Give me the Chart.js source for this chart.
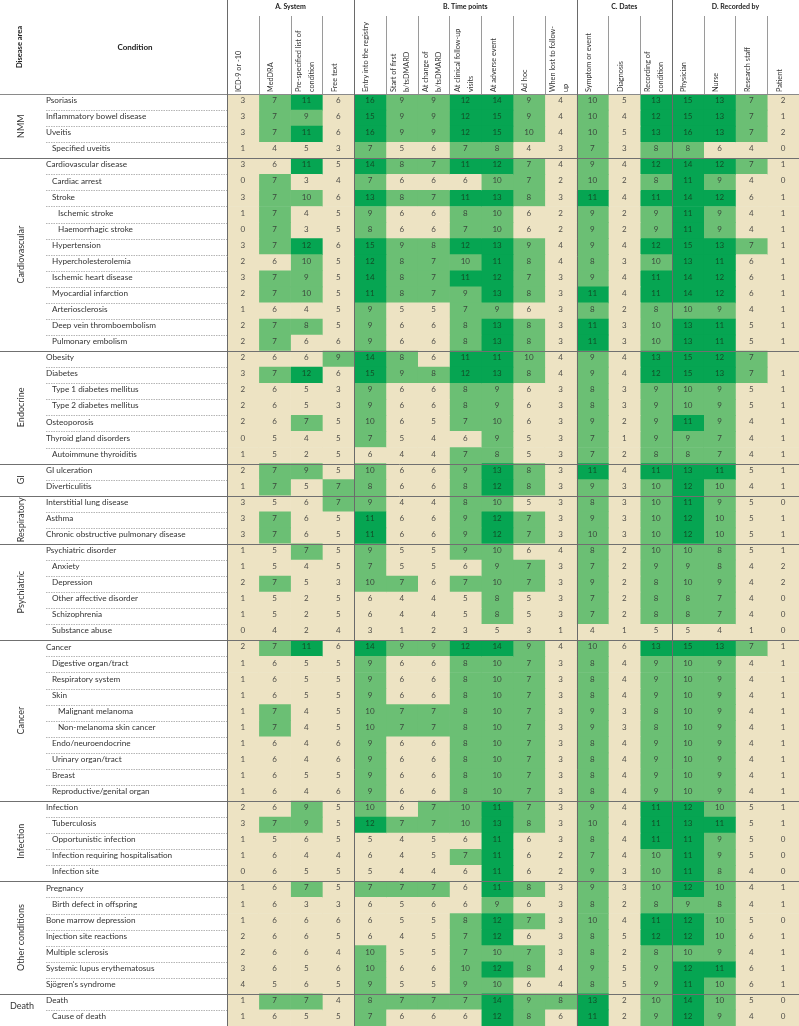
<!DOCTYPE html>
<html>
<head>
<meta charset="utf-8">
<script src="https://cdn.jsdelivr.net/npm/chart.js@4.4.1/dist/chart.umd.min.js"></script>
<style>
  html, body { margin: 0; padding: 0; background: #fff; }
  #wrap { width: 799px; height: 1026px; position: relative; }
</style>
</head>
<body>
<div id="wrap"><canvas id="grid"></canvas></div>
<script>
// Heat-table of how each condition is captured across registries:
// one floating horizontal bar per cell on a linear x scale (column index)
// and a category y scale (condition). Text and rules are drawn by a plugin.

var diseaseAreas = ["NMM", "Cardiovascular", "Endocrine", "GI", "Respiratory",
  "Psychiatric", "Cancer", "Infection", "Other conditions", "Death"];
var areaSizes = [4, 12, 7, 2, 3, 6, 10, 5, 7, 2];

var conditions = [
  "Psoriasis", "Inflammatory bowel disease", "Uveitis", "Specified uveitis",
  "Cardiovascular disease", "Cardiac arrest", "Stroke", "Ischemic stroke", "Haemorrhagic stroke",
  "Hypertension", "Hypercholesterolemia", "Ischemic heart disease", "Myocardial infarction",
  "Arteriosclerosis", "Deep vein thromboembolism", "Pulmonary embolism",
  "Obesity", "Diabetes", "Type 1 diabetes mellitus", "Type 2 diabetes mellitus",
  "Osteoporosis", "Thyroid gland disorders", "Autoimmune thyroiditis",
  "GI ulceration", "Diverticulitis",
  "Interstitial lung disease", "Asthma", "Chronic obstructive pulmonary disease",
  "Psychiatric disorder", "Anxiety", "Depression", "Other affective disorder", "Schizophrenia", "Substance abuse",
  "Cancer", "Digestive organ/tract", "Respiratory system", "Skin", "Malignant melanoma",
  "Non-melanoma skin cancer", "Endo/neuroendocrine", "Urinary organ/tract", "Breast", "Reproductive/genital organ",
  "Infection", "Tuberculosis", "Opportunistic infection", "Infection requiring hospitalisation", "Infection site",
  "Pregnancy", "Birth defect in offspring", "Bone marrow depression", "Injection site reactions",
  "Multiple sclerosis", "Systemic lupus erythematosus", "Sjögren's syndrome",
  "Death", "Cause of death"
];
// hierarchy depth of each condition (0 = top level, 1 = sub, 2 = sub-sub)
var rowLevel = [
  0, 0, 0, 1,
  0, 1, 1, 2, 2, 1, 1, 1, 1, 1, 1, 1,
  0, 0, 1, 1, 0, 0, 1,
  0, 0,
  0, 0, 0,
  0, 1, 1, 1, 1, 1,
  0, 1, 1, 1, 2, 2, 1, 1, 1, 1,
  0, 1, 1, 1, 1,
  0, 1, 0, 0, 0, 0, 0,
  0, 1
];

var columnGroups = ["A. System", "B. Time points", "C. Dates", "D. Recorded by"];
var systemCols = [["ICD-9 or -10"], ["MedDRA"], ["Pre-specified list of", "condition"], ["Free text"]];
var timePointCols = [["Entry into the registry"], ["Start of first", "b/tsDMARD"], ["At change of", "b/tsDMARD"],
  ["At clinical follow-up", "visits"], ["At adverse event"], ["Ad hoc"], ["When lost to follow-", "up"]];
var dateCols = [["Symptom or event"], ["Diagnosis"], ["Recording of", "condition"]];
var recorderCols = [["Physician"], ["Nurse"], ["Research staff"], ["Patient"]];

// ICD, MedDRA, pre-specified list, free text
var systemCounts = [
  [3,7,11,6],[3,7,9,6],[3,7,11,6],[1,4,5,3],
  [3,6,11,5],[0,7,3,4],[3,7,10,6],[1,7,4,5],[0,7,3,5],[3,7,12,6],[2,6,10,5],[3,7,9,5],[2,7,10,5],[1,6,4,5],[2,7,8,5],[2,7,6,6],
  [2,6,6,9],[3,7,12,6],[2,6,5,3],[2,6,5,3],[2,6,7,5],[0,5,4,5],[1,5,2,5],
  [2,7,9,5],[1,7,5,7],
  [3,5,6,7],[3,7,6,5],[3,7,6,5],
  [1,5,7,5],[1,5,4,5],[2,7,5,3],[1,5,2,5],[1,5,2,5],[0,4,2,4],
  [2,7,11,6],[1,6,5,5],[1,6,5,5],[1,6,5,5],[1,7,4,5],[1,7,4,5],[1,6,4,6],[1,6,4,6],[1,6,5,5],[1,6,4,6],
  [2,6,9,5],[3,7,9,5],[1,5,6,5],[1,6,4,4],[0,6,5,5],
  [1,6,7,5],[1,6,3,3],[1,6,6,6],[2,6,6,5],[2,6,6,4],[3,6,5,6],[4,5,6,5],
  [1,7,7,4],[1,6,5,5]
];
// entry, start of first, change, clinical visit, adverse event, ad hoc, lost to follow-up
var timePointCounts = [
  [16,9,9,12,14,9,4],[15,9,9,12,15,9,4],[16,9,9,12,15,10,4],[7,5,6,7,8,4,3],
  [14,8,7,11,12,7,4],[7,6,6,6,10,7,2],[13,8,7,11,13,8,3],[9,6,6,8,10,6,2],[8,6,6,7,10,6,2],
  [15,9,8,12,13,9,4],[12,8,7,10,11,8,4],[14,8,7,11,12,7,3],[11,8,7,9,13,8,3],[9,5,5,7,9,6,3],
  [9,6,6,8,13,8,3],[9,6,6,8,13,8,3],
  [14,8,6,11,11,10,4],[15,9,8,12,13,8,4],[9,6,6,8,9,6,3],[9,6,6,8,9,6,3],[10,6,5,7,10,6,3],
  [7,5,4,6,9,5,3],[6,4,4,7,8,5,3],
  [10,6,6,9,13,8,3],[8,6,6,8,12,8,3],
  [9,4,4,8,10,5,3],[11,6,6,9,12,7,3],[11,6,6,9,12,7,3],
  [9,5,5,9,10,6,4],[7,5,5,6,9,7,3],[10,7,6,7,10,7,3],[6,4,4,5,8,5,3],[6,4,4,5,8,5,3],[3,1,2,3,5,3,1],
  [14,9,9,12,14,9,4],[9,6,6,8,10,7,3],[9,6,6,8,10,7,3],[9,6,6,8,10,7,3],[10,7,7,8,10,7,3],
  [10,7,7,8,10,7,3],[9,6,6,8,10,7,3],[9,6,6,8,10,7,3],[9,6,6,8,10,7,3],[9,6,6,8,10,7,3],
  [10,6,7,10,11,7,3],[12,7,7,10,13,8,3],[5,4,5,6,11,6,3],[6,4,5,7,11,6,2],[5,4,4,6,11,6,2],
  [7,7,7,6,11,8,3],[6,5,6,6,9,6,3],[6,5,5,8,12,7,3],[6,4,5,7,12,6,3],[10,5,5,7,10,7,3],
  [10,6,6,10,12,8,4],[9,5,5,9,10,6,4],
  [8,7,7,7,14,9,8],[7,6,6,6,12,8,6]
];
// symptom or event, diagnosis, recording of condition
var dateCounts = [
  [10,5,13],[10,4,12],[10,5,13],[7,3,8],
  [9,4,12],[10,2,8],[11,4,11],[9,2,9],[9,2,9],[9,4,12],[8,3,10],[9,4,11],[11,4,11],[8,2,8],[11,3,10],[11,3,10],
  [9,4,13],[9,4,12],[8,3,9],[8,3,9],[9,2,9],[7,1,9],[7,2,8],
  [11,4,11],[9,3,10],
  [8,3,10],[9,3,10],[10,3,10],
  [8,2,10],[7,2,9],[9,2,8],[7,2,8],[7,2,8],[4,1,5],
  [10,6,13],[8,4,9],[8,4,9],[8,4,9],[9,3,8],[9,3,8],[8,4,9],[8,4,9],[8,4,9],[8,4,9],
  [9,4,11],[10,4,11],[8,4,11],[7,4,10],[9,3,10],
  [9,3,10],[8,2,8],[10,4,11],[8,5,12],[8,2,8],[9,5,9],[8,5,9],
  [13,2,10],[11,2,9]
];
// physician, nurse, research staff, patient
var recorderCounts = [
  [15,13,7,2],[15,13,7,1],[16,13,7,2],[8,6,4,0],
  [14,12,7,1],[11,9,4,0],[14,12,6,1],[11,9,4,1],[11,9,4,1],[15,13,7,1],[13,11,6,1],[14,12,6,1],
  [14,12,6,1],[10,9,4,1],[13,11,5,1],[13,11,5,1],
  [15,12,7,null],[15,13,7,1],[10,9,5,1],[10,9,5,1],[11,9,4,1],[9,7,4,1],[8,7,4,1],
  [13,11,5,1],[12,10,4,1],
  [11,9,5,0],[12,10,5,1],[12,10,5,1],
  [10,8,5,1],[9,8,4,2],[10,9,4,2],[8,7,4,0],[8,7,4,0],[5,4,1,0],
  [15,13,7,1],[10,9,4,1],[10,9,4,1],[10,9,4,1],[10,9,4,1],[10,9,4,1],[10,9,4,1],[10,9,4,1],[10,9,4,1],[10,9,4,1],
  [12,10,5,1],[13,11,5,1],[11,9,5,0],[11,9,5,0],[11,8,4,0],
  [12,10,4,1],[9,8,4,1],[12,10,5,0],[12,10,6,1],[10,9,4,1],[12,11,6,1],[11,10,6,1],
  [14,10,5,0],[12,9,4,0]
];

(function () {
  "use strict";

  var BEIGE = "#ede3c3";
  var LIGHT = "#6bbf74";
  var DARK = "#06a552";
  var FONT = "Lato, 'Noto Sans', sans-serif";

  var groupCols = [systemCols, timePointCols, dateCols, recorderCols];
  var columns = [].concat(systemCols, timePointCols, dateCols, recorderCols);
  var values = conditions.map(function (_, r) {
    return [].concat(systemCounts[r], timePointCounts[r], dateCounts[r], recorderCounts[r]);
  });

  function cellColor(v) {
    if (v == null || v <= 6) return BEIGE;
    if (v <= 10) return LIGHT;
    return DARK;
  }

  // one dataset per column; each bar spans [c, c+1] on the x scale
  var datasets = columns.map(function (col, c) {
    return {
      label: col.join(" "),
      data: conditions.map(function () { return [c, c + 1]; }),
      backgroundColor: function (ctx) { return cellColor(values[ctx.dataIndex][c]); },
      borderWidth: 0,
      borderSkipped: false,
      barPercentage: 1,
      categoryPercentage: 1,
      grouped: false,
    };
  });

  function line(ctx, x1, y1, x2, y2) {
    ctx.beginPath();
    ctx.moveTo(x1, y1);
    ctx.lineTo(x2, y2);
    ctx.stroke();
  }

  function vText(ctx, text, x, y, align) {
    ctx.save();
    ctx.translate(x, y);
    ctx.rotate(-Math.PI / 2);
    ctx.textAlign = align;
    ctx.textBaseline = "middle";
    ctx.fillText(text, 0, 0);
    ctx.restore();
  }

  var tablePlugin = {
    id: "tableText",
    afterDatasetsDraw: function (chart) {
      var ctx = chart.ctx;
      var xs = chart.scales.x, ys = chart.scales.y;
      var top = chart.chartArea.top, bottom = chart.chartArea.bottom;
      var left = chart.chartArea.left, right = chart.chartArea.right;
      var rowH = (bottom - top) / conditions.length;
      var colX = function (c) { return xs.getPixelForValue(c); };

      ctx.save();

      // cell values
      ctx.font = "8px " + FONT;
      ctx.textAlign = "center";
      ctx.textBaseline = "middle";
      values.forEach(function (row, r) {
        var y = ys.getPixelForValue(r) - 1.5;
        row.forEach(function (v, c) {
          if (v == null) return;
          ctx.fillStyle = v >= 11 ? "rgba(20,60,30,0.85)" : "rgba(50,50,50,0.85)";
          ctx.fillText(String(v), xs.getPixelForValue(c + 0.5), y);
        });
      });

      // condition labels and dotted row rules
      ctx.textAlign = "left";
      ctx.font = "8.2px " + FONT;
      ctx.fillStyle = "#333";
      var areaEnd = [];
      var acc = 0;
      areaSizes.forEach(function (n) { acc += n; areaEnd.push(acc); });
      conditions.forEach(function (name, r) {
        var y = ys.getPixelForValue(r) - 1.5;
        ctx.fillText(name, 46 + rowLevel[r] * 6, y);
        if (areaEnd.indexOf(r + 1) === -1) {
          var yb = Math.round(top + (r + 1) * rowH) + 0.5;
          ctx.save();
          ctx.strokeStyle = "#b5b5b5";
          ctx.lineWidth = 1;
          ctx.setLineDash([1.5, 1]);
          line(ctx, 46, yb, left, yb);
          ctx.restore();
        }
      });

      // disease areas + separators
      ctx.strokeStyle = "#707070";
      ctx.lineWidth = 1;
      var start = 0;
      areaSizes.forEach(function (n, i) {
        var y0 = top + start * rowH, y1 = top + (start + n) * rowH;
        ctx.fillStyle = "#333";
        ctx.font = "9px " + FONT;
        if (n > 2 || diseaseAreas[i].length <= 3) {
          vText(ctx, diseaseAreas[i], 21, (y0 + y1) / 2, "center");
        } else {
          ctx.textAlign = "center";
          ctx.textBaseline = "middle";
          ctx.fillText(diseaseAreas[i], 22, (y0 + y1) / 2 - 4);
        }
        if (i > 0) {
          var yl = Math.round(y0) + 0.5;
          line(ctx, 0, yl, right, yl);
        }
        start += n;
      });

      // header
      ctx.fillStyle = "#222";
      ctx.font = "bold 7.5px " + FONT;
      vText(ctx, "Disease area", 20, 47, "center");
      ctx.textAlign = "center";
      ctx.textBaseline = "middle";
      ctx.font = "bold 8px " + FONT;
      ctx.fillText("Condition", 135, 47);

      var hb = Math.round(top) + 0.5;
      ctx.strokeStyle = "#8a8a8a";
      line(ctx, 0, hb, right, hb);

      var c0 = 0;
      groupCols.forEach(function (cols, g) {
        var gx0 = colX(c0), gx1 = colX(c0 + cols.length);
        ctx.fillStyle = "#222";
        ctx.font = "bold 7px " + FONT;
        ctx.textAlign = "center";
        ctx.textBaseline = "middle";
        ctx.fillText(columnGroups[g], (gx0 + gx1) / 2, 7);

        // group rule runs through the whole table
        ctx.strokeStyle = "#6a6a6a";
        var gl = Math.round(gx0) + 0.5;
        line(ctx, gl, 0, gl, bottom);

        cols.forEach(function (lines, k) {
          var cx = colX(c0 + k);
          if (k > 0) {
            ctx.strokeStyle = "#9a9a9a";
            var sl = Math.round(cx) + 0.5;
            line(ctx, sl, 16, sl, top);
          }
          ctx.fillStyle = "#333";
          ctx.font = "7.3px " + FONT;
          if (lines.length === 1) {
            vText(ctx, lines[0], cx + 12, top - 2, "left");
          } else {
            vText(ctx, lines[0], cx + 8, top - 2, "left");
            vText(ctx, lines[1], cx + 21, top - 2, "left");
          }
        });
        c0 += cols.length;
      });

      ctx.restore();
    },
  };

  new Chart(document.getElementById("grid"), {
    type: "bar",
    data: { labels: conditions, datasets: datasets },
    options: {
      indexAxis: "y",
      responsive: true,
      maintainAspectRatio: false,
      animation: false,
      layout: { padding: { left: 227, top: 94, right: 0, bottom: 0 } },
      scales: {
        x: { type: "linear", min: 0, max: columns.length, display: false },
        y: { type: "category", display: false, offset: true },
      },
      plugins: {
        legend: { display: false },
        tooltip: { enabled: false },
      },
    },
    plugins: [tablePlugin],
  });
})();
</script>
</body>
</html>
